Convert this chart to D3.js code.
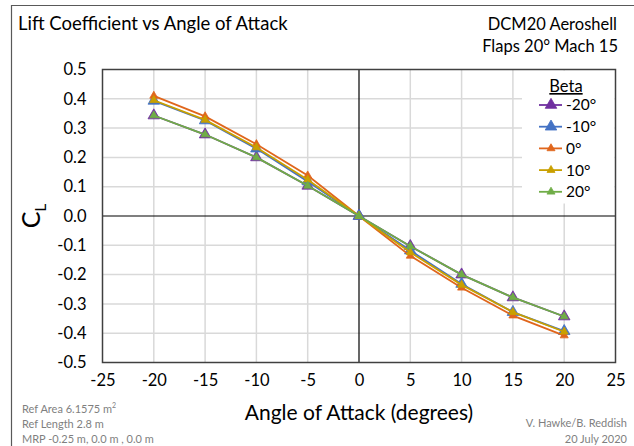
<!DOCTYPE html>
<html>
<head>
<meta charset="utf-8">
<script src="https://cdn.jsdelivr.net/npm/d3@7"></script>
<style>
  html, body { margin: 0; padding: 0; background: #fff; }
  svg { display: block; font-family: Lato, "Open Sans", sans-serif; }
</style>
</head>
<body>
<svg id="chart" width="634" height="446"></svg>
<script>
// Angle of attack stations (degrees)
const alpha = [-20, -15, -10, -5, 0, 5, 10, 15, 20];

// Sideslip cases (Beta) and their lift coefficients
const betaLabels = ["-20°", "-10°", "0°", "10°", "20°"];
const clBetaNeg20 = [0.343, 0.278, 0.200, 0.103, 0, -0.103, -0.200, -0.278, -0.343];
const clBetaNeg10 = [0.393, 0.326, 0.230, 0.118, 0, -0.118, -0.232, -0.328, -0.393];
const clBeta0     = [0.410, 0.340, 0.245, 0.138, 0, -0.136, -0.245, -0.340, -0.408];
const clBeta10    = [0.395, 0.328, 0.234, 0.124, 0, -0.124, -0.235, -0.328, -0.395];
const clBeta20    = [0.343, 0.278, 0.200, 0.103, 0, -0.103, -0.200, -0.278, -0.343];

// Axis ticks
const xTicks = [-25, -20, -15, -10, -5, 0, 5, 10, 15, 20, 25];
const yTicks = [0.5, 0.4, 0.3, 0.2, 0.1, 0.0, -0.1, -0.2, -0.3, -0.4, -0.5];

const seriesValues = [clBetaNeg20, clBetaNeg10, clBeta0, clBeta10, clBeta20];
const seriesColors = ["#7030A0", "#4472C4", "#E0661C", "#C9A000", "#70AD47"];
const markerSizes = [58, 58, 28, 28, 28];

// Plain hyphen-minus for negative tick labels
const hyphen = f => d => f(d).replace("\u2212", "-");

const svg = d3.select("#chart");

// Outer chart frame
svg.append("path")
  .attr("d", "M11.5,446 L11.5,5.5 L634,5.5")
  .attr("fill", "none").attr("stroke", "#595959").attr("stroke-width", 1.2);

const plot = { left: 102.5, right: 615.5, top: 69.5, bottom: 362.5 };

const x = d3.scaleLinear().domain([-25, 25]).range([plot.left, plot.right]);
const y = d3.scaleLinear().domain([-0.5, 0.5]).range([plot.bottom, plot.top]);

// Gridlines
const grid = svg.append("g");
grid.selectAll(".gx").data(xTicks.filter(t => t !== -25 && t !== 25 && t !== 0))
  .join("line")
  .attr("x1", d => x(d)).attr("x2", d => x(d))
  .attr("y1", plot.top).attr("y2", plot.bottom)
  .attr("stroke", "#D9D9D9").attr("stroke-width", 1.5);
grid.selectAll(".gy").data(yTicks.filter(t => Math.abs(t) < 0.45 && t !== 0))
  .join("line")
  .attr("x1", plot.left).attr("x2", plot.right)
  .attr("y1", d => y(d)).attr("y2", d => y(d))
  .attr("stroke", "#D9D9D9").attr("stroke-width", 1.5);

// Legend backdrop covers the gridlines in the top-right corner
svg.append("rect")
  .attr("x", 522).attr("y", plot.top + 1)
  .attr("width", plot.right - 522 - 1).attr("height", 133)
  .attr("fill", "#fff");

// Zero axes
svg.append("line")
  .attr("x1", x(0)).attr("x2", x(0)).attr("y1", plot.top).attr("y2", plot.bottom)
  .attr("stroke", "#000").attr("stroke-width", 1.2);
svg.append("line")
  .attr("x1", plot.left).attr("x2", plot.right).attr("y1", y(0)).attr("y2", y(0))
  .attr("stroke", "#000").attr("stroke-width", 1.2);

// Plot area border
svg.append("rect")
  .attr("x", plot.left).attr("y", plot.top)
  .attr("width", plot.right - plot.left).attr("height", plot.bottom - plot.top)
  .attr("fill", "none").attr("stroke", "#404040").attr("stroke-width", 1.5);

// Axes (labels only; tick marks hidden)
const xAxis = d3.axisBottom(x).tickValues(xTicks).tickSize(0).tickPadding(0)
  .tickFormat(hyphen(d3.format("d")));
svg.append("g").attr("transform", `translate(0,${plot.bottom + 12})`).call(xAxis)
  .call(g => g.select(".domain").remove())
  .call(g => g.selectAll("text").attr("font-family", "Lato").attr("font-size", 16.5)
    .attr("fill", "#000").attr("dy", "0.71em"));

const yAxis = d3.axisLeft(y).tickValues(yTicks).tickSize(0).tickPadding(0)
  .tickFormat(hyphen(d3.format(".1f")));
svg.append("g").attr("transform", `translate(${plot.left - 16},0)`).call(yAxis)
  .call(g => g.select(".domain").remove())
  .call(g => g.selectAll("text").attr("font-family", "Lato").attr("font-size", 16.5)
    .attr("fill", "#000"));

// Series lines and triangle markers
const line = d3.line().x((d, i) => x(alpha[i])).y(d => y(d));
const triangle = d3.symbol().type(d3.symbolTriangle);

seriesValues.forEach((vals, s) => {
  const g = svg.append("g");
  g.append("path").attr("d", line(vals))
    .attr("fill", "none").attr("stroke", seriesColors[s]).attr("stroke-width", 1.8);
  g.selectAll("path.m").data(vals).join("path").attr("class", "m")
    .attr("d", triangle.size(markerSizes[s]))
    .attr("transform", (d, i) => `translate(${x(alpha[i])},${y(d)})`)
    .attr("fill", seriesColors[s]).attr("stroke", seriesColors[s]).attr("stroke-width", 0.8);
});

// Legend
const legend = svg.append("g");
legend.append("text").attr("x", 566).attr("y", 92).attr("text-anchor", "middle")
  .attr("font-size", 16.5).attr("text-decoration", "underline").text("Beta");
betaLabels.forEach((lab, s) => {
  const ly = 105 + s * 21.7;
  legend.append("line").attr("x1", 539).attr("x2", 562).attr("y1", ly).attr("y2", ly)
    .attr("stroke", seriesColors[s]).attr("stroke-width", 1.8);
  legend.append("path").attr("d", triangle.size(markerSizes[s])())
    .attr("transform", `translate(551,${ly})`)
    .attr("fill", seriesColors[s]).attr("stroke", seriesColors[s]).attr("stroke-width", 0.8);
  legend.append("text").attr("x", 566).attr("y", ly).attr("dy", "0.35em")
    .attr("font-size", 15.5).text(lab);
});

// Titles
svg.append("text").attr("x", 18).attr("y", 30).attr("font-size", 18.5)
  .text("Lift Coefficient vs Angle of Attack");
svg.append("text").attr("x", 617).attr("y", 30).attr("text-anchor", "end")
  .attr("font-size", 16.5).text("DCM20 Aeroshell");
svg.append("text").attr("x", 618).attr("y", 52).attr("text-anchor", "end")
  .attr("font-size", 16.5).text("Flaps 20° Mach 15");

// Axis titles
svg.append("text").attr("x", x(0)).attr("y", 420).attr("text-anchor", "middle")
  .attr("font-size", 21).text("Angle of Attack (degrees)");
const yt = svg.append("text").attr("transform", "translate(40,216) rotate(-90)")
  .attr("text-anchor", "middle").attr("font-size", 25);
yt.append("tspan").text("C");
yt.append("tspan").attr("font-size", 15).attr("dy", 6).text("L");

// Reference notes
const notes = svg.append("g").attr("fill", "#7F7F7F").attr("font-size", 11);
notes.append("text").attr("x", 22).attr("y", 413)
  .call(t => { t.append("tspan").text("Ref Area 6.1575 m"); t.append("tspan").attr("font-size", 7).attr("dy", -5).text("2"); });
notes.append("text").attr("x", 22).attr("y", 428).text("Ref Length 2.8 m");
notes.append("text").attr("x", 22).attr("y", 443).text("MRP -0.25 m, 0.0 m , 0.0 m");
notes.append("text").attr("x", 627).attr("y", 427).attr("text-anchor", "end").text("V. Hawke/B. Reddish");
notes.append("text").attr("x", 627).attr("y", 443).attr("text-anchor", "end").text("20 July 2020");
</script>
</body>
</html>
